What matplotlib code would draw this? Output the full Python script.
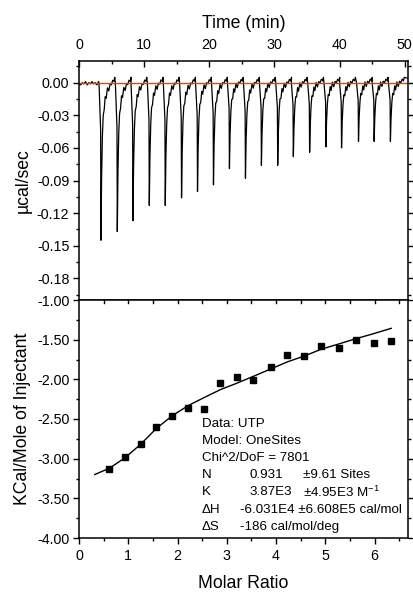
import matplotlib
matplotlib.use('Agg')
import matplotlib.pyplot as plt
import numpy as np

plt.rcParams['font.family'] = ['Liberation Sans', 'DejaVu Sans']
plt.rcParams['mathtext.fontset'] = 'custom'
plt.rcParams['mathtext.rm'] = 'Liberation Sans'

# ── raw thermogram: injection times (min) and peak depths (ucal/sec) ──────────
peak_t = [3.37, 5.88, 8.28, 10.79, 13.24, 15.74, 18.19, 20.64, 23.09, 25.55,
          28.00, 30.50, 32.90, 35.40, 37.90, 40.30, 42.90, 45.30, 47.80]
peak_depth = [0.145, 0.137, 0.127, 0.113, 0.113, 0.106, 0.100, 0.094, 0.079, 0.088,
              0.076, 0.076, 0.068, 0.064, 0.059, 0.060, 0.054, 0.054, 0.054]

shape_t = [-0.30, -0.05, 0.00, 0.10, 0.22, 0.35, 0.50, 0.65, 0.80, 1.00,
           1.20, 1.40, 1.60, 1.80, 2.00, 2.12]
shape_f = [0.00, 0.30, 1.00, 0.60, 0.34, 0.22, 0.15, 0.11, 0.085, 0.06,
           0.045, 0.03, 0.02, 0.012, 0.005, 0.0]
shape_w = [0.0, 0.0, 0.0, 0.0, 0.0, 0.002, -0.003, 0.003, -0.002, 0.004,
           -0.001, 0.003, 0.001, 0.004, 0.002, 0.005]

# baseline before the first injection
base_t = [0.0, 0.25, 0.5, 0.75, 1.0, 1.25, 1.5, 1.75, 2.0, 2.25, 2.5, 2.75, 3.0]
base_v = [-0.001, -0.002, 0.0, -0.001, 0.001, -0.002, 0.0, -0.001, 0.001,
          -0.001, 0.0, -0.002, 0.001]
tail_t = [50.5]
tail_v = [0.004]

# ── integrated heats ─────────────────────────────────────────────────────────
ratio = [0.61, 0.94, 1.25, 1.57, 1.89, 2.22, 2.54, 2.87, 3.20, 3.54,
         3.89, 4.22, 4.57, 4.92, 5.27, 5.62, 5.98, 6.34]
heat = [-3.13, -2.98, -2.82, -2.60, -2.46, -2.36, -2.38, -2.04, -1.97, -2.01,
        -1.85, -1.69, -1.70, -1.58, -1.60, -1.50, -1.54, -1.52]

# fitted curve
fit_x = [0.32, 0.62, 0.93, 1.25, 1.57, 1.89, 2.22, 2.54, 2.87, 3.20, 3.53,
         3.89, 4.23, 4.58, 4.92, 5.27, 5.61, 5.95, 6.34]
fit_y = [-3.20, -3.12, -2.99, -2.82, -2.62, -2.46, -2.33, -2.23, -2.13, -2.05,
         -1.965, -1.87, -1.78, -1.705, -1.62, -1.555, -1.49, -1.43, -1.357]

fit_rows = [
    ('Data: UTP', None, None),
    ('Model: OneSites', None, None),
    ('Chi^2/DoF = 7801', None, None),
    ('N', '0.931', '\u00b19.61 Sites'),
    ('K', '3.87E3', '\u00b14.95E3 M$^{-1}$'),
    ('\u0394H', '-6.031E4 \u00b16.608E5 cal/mol', None),
    ('\u0394S', '-186 cal/mol/deg', None),
]

# build the trace from the peak profile
tr_t = [np.array(base_t)]
tr_v = [np.array(base_v)]
for t0, d in zip(peak_t, peak_depth):
    tr_t.append(t0 + np.array(shape_t))
    tr_v.append(-d * np.array(shape_f) + np.array(shape_w))
tr_t.append(np.array(tail_t)); tr_v.append(np.array(tail_v))
tr_t = np.concatenate(tr_t); tr_v = np.concatenate(tr_v)

fig = plt.figure(figsize=(4.14, 5.92), dpi=100)
L, W = 79 / 414, 329 / 414
ax1 = fig.add_axes([L, 292 / 592, W, 239 / 592])
ax2 = fig.add_axes([L, 54 / 592, W, 238 / 592])

for ax in (ax1, ax2):
    for sp in ax.spines.values():
        sp.set_linewidth(1.1)
    ax.tick_params(which='major', length=4, width=1, labelsize=10.3)
    ax.tick_params(which='minor', length=2.4, width=1)

# ── top panel ────────────────────────────────────────────────────────────────
ax1.plot(tr_t, tr_v, color='black', lw=0.9)
ax1.axhline(0, color='#e0402a', lw=1)
ax1.set_xlim(0, 50.5)
ax1.set_ylim(-0.20, 0.02)
ax1.set_yticks(np.arange(-0.18, 0.001, 0.03))
ax1.set_yticklabels([f'{v:.2f}' for v in np.arange(-0.18, 0.001, 0.03)])
ax1.set_yticks(np.arange(-0.195, 0.02, 0.015), minor=True)
ax1.set_xticks(np.arange(0, 51, 10))
ax1.set_xticks(np.arange(0, 51, 5), minor=True)
ax1.xaxis.tick_top()
ax1.tick_params(axis='x', which='both', direction='in', pad=6.5)
ax1.tick_params(axis='y', which='both', direction='out', left=True, right=True, pad=3)
ax1.xaxis.set_label_position('top')
ax1.set_xlabel('Time (min)', fontsize=12.7)
ax1.xaxis.set_label_coords(0.5, 1.14)
ax1.set_ylabel('\u00b5cal/sec', fontsize=12.7)
ax1.yaxis.set_label_coords(-0.145, 0.5)

# ── bottom panel ─────────────────────────────────────────────────────────────
ax2.plot(fit_x, fit_y, color='black', lw=1)
ax2.plot(ratio, heat, 's', color='black', ms=5)
ax2.set_xlim(0, 6.68)
ax2.set_ylim(-4.0, -1.0)
ax2.set_yticks(np.arange(-4.0, -0.99, 0.5))
ax2.set_yticklabels([f'{v:.2f}' for v in np.arange(-4.0, -0.99, 0.5)])
ax2.set_yticks(np.arange(-4.0, -0.99, 0.25), minor=True)
ax2.set_xticks(range(0, 7))
ax2.set_xticks(np.arange(0, 6.6, 0.5), minor=True)
ax2.tick_params(axis='x', which='both', direction='out', top=False, pad=4)
ax2.tick_params(axis='y', which='both', direction='out', left=True, right=True, pad=3)
ax2.set_xlabel('Molar Ratio', fontsize=12.7)
ax2.xaxis.set_label_coords(0.5, -0.155)
ax2.set_ylabel('KCal/Mole of Injectant', fontsize=12.7)
ax2.yaxis.set_label_coords(-0.145, 0.5)
# inward ticks along the shared border
for xm in np.arange(0.5, 6.6, 0.5):
    ax2.plot([xm, xm], [-1.0, -1.04], color='black', lw=1, clip_on=False)

row_y = [0.479, 0.409, 0.337, 0.265, 0.193, 0.118, 0.045]
for (c1, c2, c3), y in zip(fit_rows, row_y):
    ax2.text(0.374, y, c1, transform=ax2.transAxes, fontsize=9.6, va='center')
    if c2 is not None:
        x2 = 0.517 if c3 is not None else 0.489
        ax2.text(x2, y, c2, transform=ax2.transAxes, fontsize=9.6, va='center')
    if c3 is not None:
        ax2.text(0.681, y, c3, transform=ax2.transAxes, fontsize=9.6, va='center')

fig.savefig('out.png', dpi=100)
